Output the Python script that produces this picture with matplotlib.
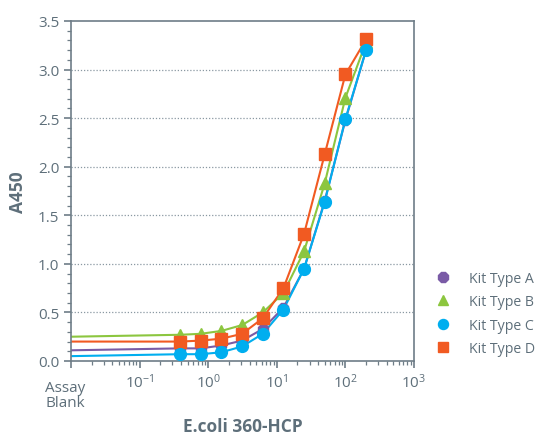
import matplotlib
matplotlib.use("Agg")
import matplotlib.pyplot as plt
from matplotlib.ticker import LogLocator, MultipleLocator, NullFormatter, FixedLocator, FixedFormatter
import matplotlib.transforms as mtransforms

# ---- data ----
blank_x = 0.01
conc = [0.390625, 0.78125, 1.5625, 3.125, 6.25, 12.5, 25, 50, 100, 200]
series_names = ["Kit Type A", "Kit Type B", "Kit Type C", "Kit Type D"]
blank_A = 0.11
blank_B = 0.25
blank_C = 0.05
blank_D = 0.20
kit_A = [0.13, 0.13, 0.16, 0.21, 0.33, 0.55, 0.95, 1.65, 2.48, 3.20]
kit_B = [0.27, 0.28, 0.31, 0.37, 0.50, 0.70, 1.13, 1.83, 2.71, 3.28]
kit_C = [0.07, 0.07, 0.09, 0.15, 0.28, 0.53, 0.95, 1.64, 2.49, 3.20]
kit_D = [0.20, 0.21, 0.23, 0.28, 0.44, 0.75, 1.31, 2.13, 2.95, 3.31]
x_tick_vals = [0.01, 0.1, 1, 10, 100, 1000]
x_tick_labels = ["", r"$10^{-1}$", r"$10^{0}$", r"$10^{1}$", r"$10^{2}$", r"$10^{3}$"]
y_ticks = [0.0, 0.5, 1.0, 1.5, 2.0, 2.5, 3.0, 3.5]

colors = {"A": "#7A5BA6", "B": "#8CC63F", "C": "#00AEEF", "D": "#F15A22"}
markers = {"A": "8", "B": "^", "C": "o", "D": "s"}
txt = "#5E6F7A"
spine = "#6E7D87"

plt.rcParams["font.family"] = ["Open Sans", "DejaVu Sans"]
plt.rcParams["mathtext.default"] = "regular"

fig = plt.figure(figsize=(5.41, 4.35), dpi=100)
ax = fig.add_axes([71/541, 1 - 362/435, (414-71)/541, (362-22)/435])

data = {"A": (blank_A, kit_A), "B": (blank_B, kit_B), "C": (blank_C, kit_C), "D": (blank_D, kit_D)}
zord = {"A": 3, "B": 4, "D": 5, "C": 6}
for key, name in zip(["A", "B", "C", "D"], series_names):
    b, vals = data[key]
    ax.plot([blank_x] + conc, [b] + vals, color=colors[key], lw=1.5, zorder=2)
for key, name in zip(["A", "B", "C", "D"], series_names):
    b, vals = data[key]
    ax.plot(conc, vals, linestyle="none", marker=markers[key], ms=8.5 if key != "B" else 8,
            color=colors[key], mec=colors[key], zorder=zord[key], label=name)

ax.set_xscale("log")
ax.set_xlim(0.01, 1000)
ax.set_ylim(0, 3.5)
ax.xaxis.set_major_locator(FixedLocator(x_tick_vals))
ax.xaxis.set_major_formatter(FixedFormatter(x_tick_labels))
ax.xaxis.set_minor_locator(LogLocator(base=10, subs=[2, 3, 4, 5, 6, 7, 8, 9], numticks=20))
ax.xaxis.set_minor_formatter(NullFormatter())
ax.yaxis.set_major_locator(FixedLocator(y_ticks))
ax.yaxis.set_minor_locator(MultipleLocator(0.1))
ax.set_yticklabels([f"{v:.1f}" for v in y_ticks])

for y in y_ticks[1:-1]:
    ax.axhline(y, color="#8A98A2", lw=0.9, ls=(0, (1, 1.5)), zorder=1)

for s in ax.spines.values():
    s.set_color(spine)
    s.set_linewidth(1.2)
ax.tick_params(which="major", direction="out", length=5, width=1.2, color=spine,
               labelcolor=txt, labelsize=11)
ax.tick_params(which="minor", direction="out", length=3, width=0.9, color=spine)
ax.tick_params(axis="x", which="major", pad=3)

off = mtransforms.offset_copy(mtransforms.blended_transform_factory(ax.transData, ax.transAxes),
                              fig=fig, x=-6, y=0, units="dots")
ax.text(0.01, -0.055, "Assay\nBlank", transform=off,
        ha="center", va="top", color=txt, fontsize=11, linespacing=1.0)

ax.text(0.5, -0.206, "E.coli 360-HCP", transform=ax.transAxes, ha="center", va="baseline",
        fontsize=12.5, fontweight="bold", color=txt)
ax.set_ylabel("A450", fontsize=12.5, fontweight="bold", color=txt, labelpad=8)

leg = ax.legend(loc="center left", bbox_to_anchor=(1.027, 0.14), frameon=False,
                handlelength=1.0, handletextpad=1.35, labelspacing=0.58, fontsize=10.2,
                markerscale=0.85, labelcolor=txt)

fig.savefig("out.png", dpi=100)
